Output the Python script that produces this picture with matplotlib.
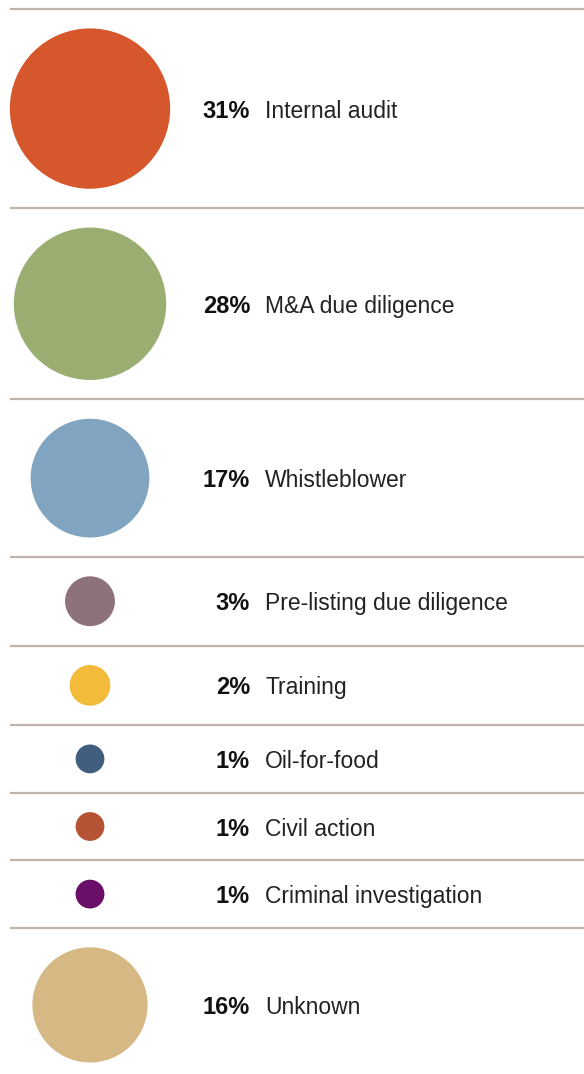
import numpy as np
import matplotlib
matplotlib.use("Agg")
import matplotlib.pyplot as plt
from matplotlib.patches import Circle

# Data
categories = ["Internal audit", "M&A due diligence", "Whistleblower",
              "Pre-listing due diligence", "Training", "Oil-for-food",
              "Civil action", "Criminal investigation", "Unknown"]
values = [31, 28, 17, 3, 2, 1, 1, 1, 16]
colors = ["#d5572b", "#9bae72", "#81a5c0", "#8d727a", "#f2bb3a",
          "#425e7e", "#b55434", "#6a0f68", "#d5b884"]

# Layout / style
W, H = 584, 1074
scale = 28.8          # px diameter per sqrt(percent)
pad = 38.8            # vertical padding per row
top = 9
cx = 90
text_dy = 2.5
line_color = "#bfb5ab"
fs = 16.5

fig = plt.figure(figsize=(W / 100, H / 100), dpi=100)
ax = fig.add_axes([0, 0, 1, 1])
ax.set_xlim(0, W)
ax.set_ylim(H, 0)
ax.axis("off")

diam = scale * np.sqrt(np.array(values, dtype=float))
heights = diam + pad
bounds = top + np.concatenate([[0], np.cumsum(heights)])

for b in bounds[:-1]:
    ax.plot([10, W], [b, b], color=line_color, lw=1.6, solid_capstyle="butt")

for i, (cat, v, c) in enumerate(zip(categories, values, colors)):
    cy = (bounds[i] + bounds[i + 1]) / 2
    ax.add_patch(Circle((cx, cy), diam[i] / 2, facecolor=c, edgecolor="none"))
    ax.text(250, cy + text_dy, f"{v}%", ha="right", va="center", fontsize=fs + 0.5,
            fontweight="bold", family="Liberation Sans", color="#111111")
    ax.text(265, cy + text_dy, cat, ha="left", va="center", fontsize=fs,
            family="Liberation Sans", color="#222222")

fig.savefig("out.png", dpi=100)
